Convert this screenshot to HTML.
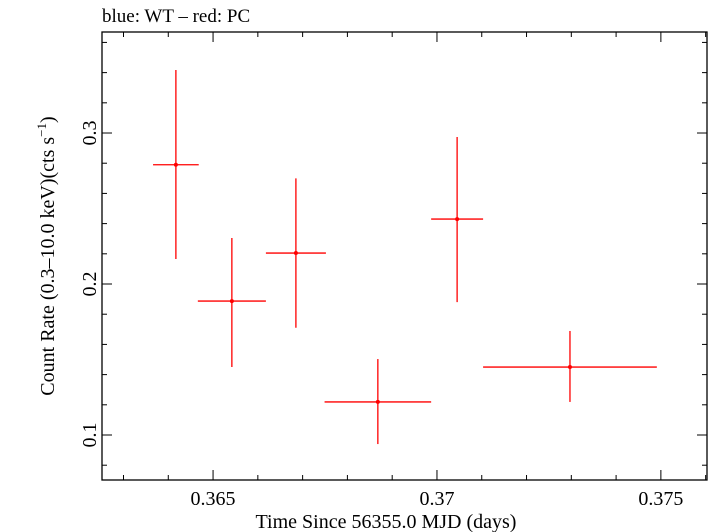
<!DOCTYPE html>
<html><head><meta charset="utf-8"><style>
body{margin:0;background:#fff}
svg{display:block;font-family:"Liberation Serif",serif}
</style></head><body>
<svg id="chart" width="709" height="532">
<text x="102" y="22" font-size="19">blue: WT – red: PC</text>
<g id="axes"></g>
<g id="marks"></g>
<text x="386" y="528" font-size="20" text-anchor="middle">Time Since 56355.0 MJD (days)</text>
<text transform="translate(54,256) rotate(-90)" font-size="20" text-anchor="middle">Count Rate (0.3–10.0 keV)(cts s<tspan font-size="13" dy="-8">−1</tspan><tspan dy="8">)</tspan></text>
</svg>
<script>
const times=[0.36417,0.36542,0.36685,0.36868,0.37045,0.37297];
const halfWidths=[0.00051,0.00076,0.00067,0.00119,0.00058,0.00194];
const rates=[0.279,0.1887,0.2205,0.1219,0.243,0.145];
const errHigh=[0.3417,0.2305,0.270,0.1503,0.2974,0.1689];
const errLow=[0.2166,0.145,0.171,0.094,0.188,0.1219];
const xTicks=[0.365,0.37,0.375];
const xTickLabels=["0.365","0.37","0.375"];
const yTicks=[0.1,0.2,0.3];
const yTickLabels=["0.1","0.2","0.3"];
const L=102,R=707,T=32,B=480;
const xMin=0.36252,xMax=0.37603,yMin=0.0702,yMax=0.3669;
const X=v=>L+(v-xMin)/(xMax-xMin)*(R-L);
const Y=v=>B-(v-yMin)/(yMax-yMin)*(B-T);
const NS="http://www.w3.org/2000/svg";
function mk(tag,attrs,parent){const e=document.createElementNS(NS,tag);for(const k in attrs)e.setAttribute(k,attrs[k]);parent.appendChild(e);return e;}
const ax=document.getElementById('axes'),mg=document.getElementById('marks');
const fr=mk('rect',{x:L,y:T,width:R-L,height:B-T,fill:'none',stroke:'#000','stroke-width':1.3},ax);


for(let v=0.363;v<=0.3760;v+=0.001){const x=X(v);const maj=Math.abs(Math.round(v*200)-v*200)<1e-6;const len=maj?10:5;
 const t1=mk('line',{x1:x,x2:x,y1:B,y2:B-len,stroke:'#000'},ax);
 
 
 const t2=mk('line',{x1:x,x2:x,y1:T,y2:T+len,stroke:'#000'},ax);
 
 }
for(let v=0.08;v<=0.367;v+=0.02){const y=Y(v);const maj=Math.abs(Math.round(v*10)-v*10)<1e-6;const len=maj?10:5;
 const t1=mk('line',{x1:L,x2:L+len,y1:y,y2:y,stroke:'#000'},ax);
 
 
 const t2=mk('line',{x1:R,x2:R-len,y1:y,y2:y,stroke:'#000'},ax);
 
 }
xTicks.forEach((v,i)=>{const t=mk('text',{x:X(v),y:B+25,'font-size':20,'text-anchor':'middle'},ax);t.textContent=xTickLabels[i];
 
 });
yTicks.forEach((v,i)=>{const t=mk('text',{transform:`translate(${L-6},${Y(v)}) rotate(-90)`,'font-size':20,'text-anchor':'middle'},ax);t.textContent=yTickLabels[i];
 
 });
times.forEach((t,i)=>{const g=mk('g',{},mg);
 
 
 mk('line',{x1:X(t-halfWidths[i]),x2:X(t+halfWidths[i]),y1:Y(rates[i]),y2:Y(rates[i]),stroke:'#f00','stroke-width':1.3},g);
 mk('line',{x1:X(t),x2:X(t),y1:Y(errHigh[i]),y2:Y(errLow[i]),stroke:'#f00','stroke-width':1.3},g);
 mk('circle',{cx:X(t),cy:Y(rates[i]),r:2,fill:'#f00'},g);});
</script>
</body></html>
